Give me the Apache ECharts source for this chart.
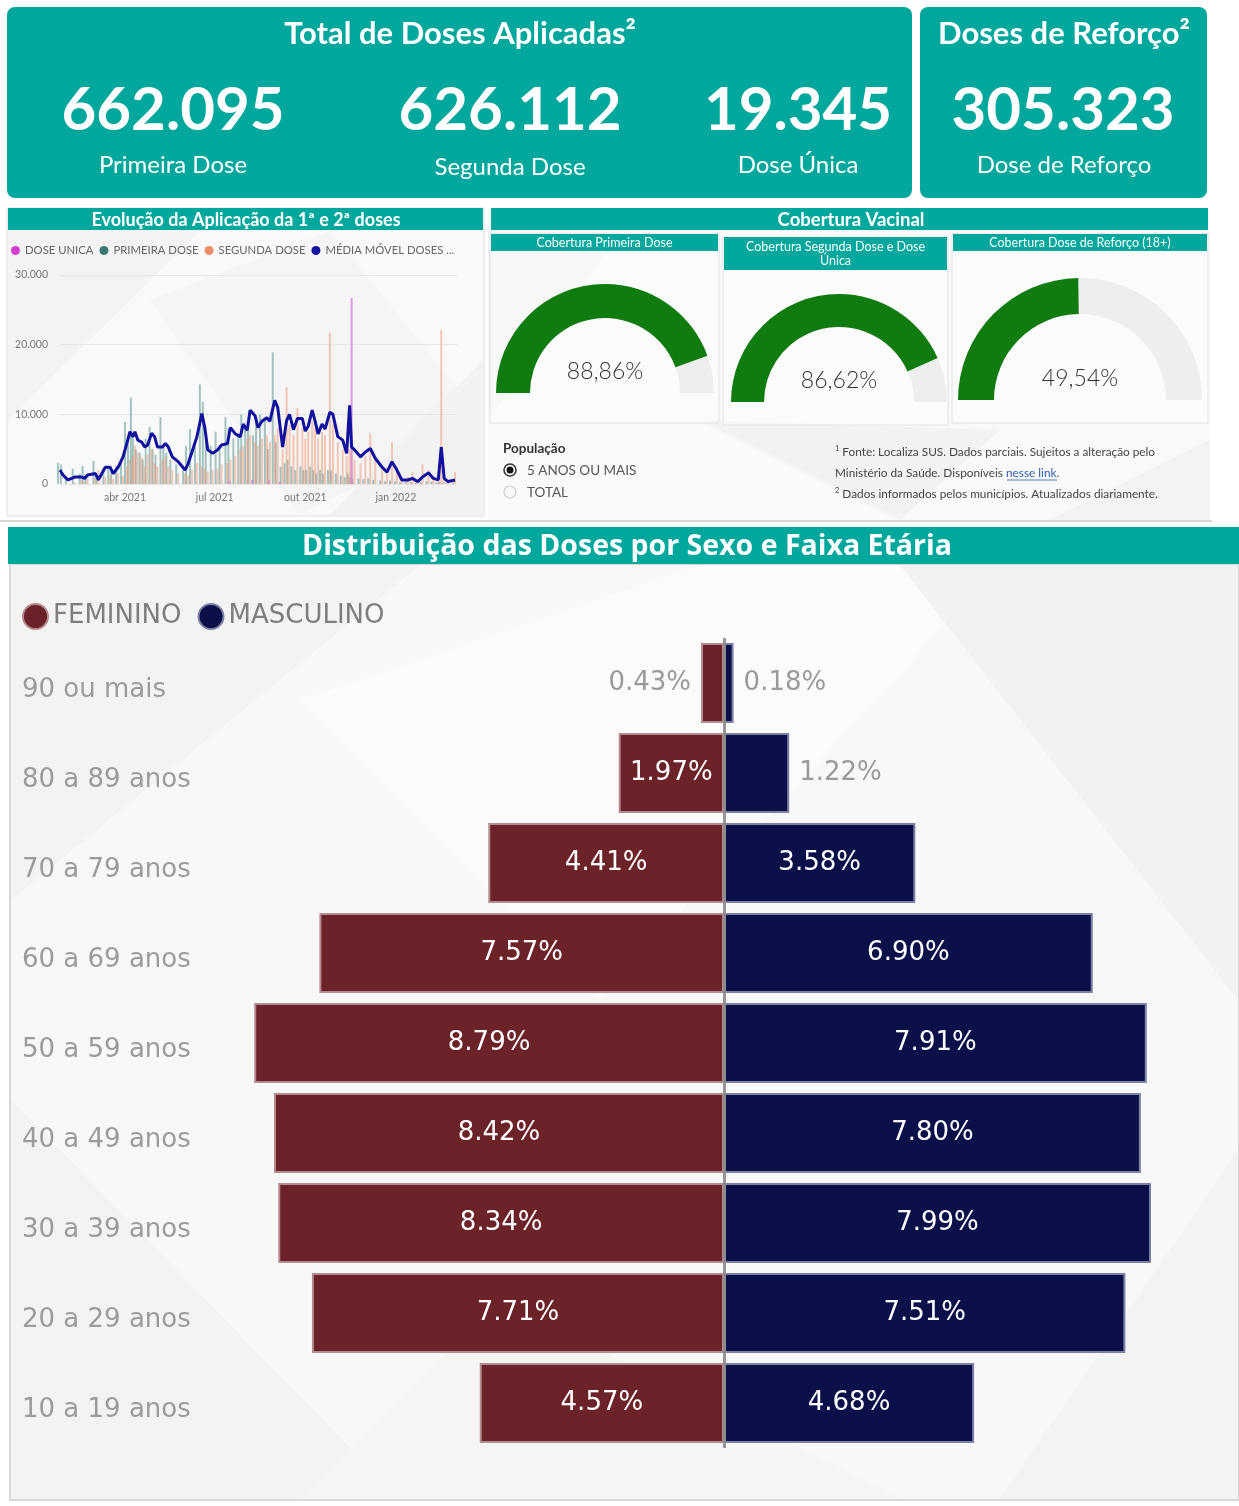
<!DOCTYPE html>
<html>
<head>
<meta charset="utf-8">
<script src="https://cdn.jsdelivr.net/npm/echarts@6/dist/echarts.min.js"></script>
<style>
html,body{margin:0;padding:0;background:#ffffff;}
#main{width:1239px;height:1506px;}
</style>
</head>
<body>
<div id="main"></div>
<script>
// ---- Cartões de totais ----
const totaisValores = ['662.095', '626.112', '19.345'];
const totaisRotulos = ['Primeira Dose', 'Segunda Dose', 'Dose Única'];
const reforcoValor = '305.323';
const reforcoRotulo = 'Dose de Reforço';

// ---- Evolução diária das doses ----
const diasAplicacao = ['2021-01-25','2021-01-28','2021-02-02','2021-02-09','2021-02-16','2021-02-19','2021-02-22','2021-03-02','2021-03-05','2021-03-12',
  '2021-03-17','2021-03-20','2021-03-25','2021-03-30','2021-04-03','2021-04-06','2021-04-09','2021-04-11','2021-04-14','2021-04-18',
  '2021-04-21','2021-04-24','2021-04-28','2021-05-01','2021-05-04','2021-05-09','2021-05-12','2021-05-15','2021-05-19','2021-05-25',
  '2021-06-01','2021-06-04','2021-06-08','2021-06-13','2021-06-18','2021-06-21','2021-06-24','2021-06-29','2021-07-04','2021-07-08',
  '2021-07-14','2021-07-17','2021-07-22','2021-07-27','2021-07-30','2021-08-03','2021-08-06','2021-08-11','2021-08-14','2021-08-18',
  '2021-08-23','2021-08-26','2021-08-31','2021-09-03','2021-09-08','2021-09-12','2021-09-15','2021-09-19','2021-09-23','2021-09-28',
  '2021-10-01','2021-10-04','2021-10-08','2021-10-11','2021-10-14','2021-10-18','2021-10-21','2021-10-26','2021-10-29','2021-11-03',
  '2021-11-08','2021-11-12','2021-11-15','2021-11-17','2021-11-20','2021-11-26','2021-12-01','2021-12-06','2021-12-11','2021-12-18',
  '2021-12-23','2021-12-28','2022-01-02','2022-01-07','2022-01-13','2022-01-18','2022-01-23','2022-01-28','2022-02-03','2022-02-08',
  '2022-02-13','2022-02-16','2022-02-19','2022-02-23','2022-03-02'];
const mediaMovel = [2000,1300,600,1000,1000,800,1300,1500,600,2400,
  2400,1500,2400,3900,5900,7500,6800,7500,6300,6000,
  5300,5600,7300,6800,5300,5300,5800,5300,3900,3200,
  2000,2900,4600,6800,10100,8100,4900,4400,4900,5600,
  5800,8100,7200,6800,8600,7700,10600,9800,8100,9000,
  9500,9000,12000,11000,5300,9100,10000,7800,9400,9400,
  7600,8300,10600,9000,7200,8600,7900,10300,10000,6800,
  6300,4400,11300,5300,4900,3900,4600,5100,3700,2400,
  1700,3200,2000,570,570,800,350,1000,1600,800,
  600,5300,800,350,570];
const primeiraDose = [3000,2800,1000,2200,1500,2600,1200,3300,1200,2000,
  2400,1800,2600,3500,8900,6000,12400,7000,5000,4500,
  3500,6500,8200,5000,4200,9600,5500,4500,3500,2800,
  2000,5500,7900,6000,14300,11800,6000,5500,7500,5500,
  9600,8000,6500,7000,10000,8500,9000,7000,9000,10000,
  9500,5000,18900,6000,2500,3000,3500,2500,2000,2500,
  2000,2000,2500,2000,1500,2000,1500,2000,2000,1500,
  1200,1000,1500,1000,800,800,700,800,600,500,
  400,500,400,300,300,300,200,300,400,300,
  200,300,200,100,200];
const segundaDose = [0,0,0,200,600,300,800,900,2000,1000,
  1200,700,1500,1200,2500,3500,4000,5500,4500,3800,
  2500,4200,5000,3000,2500,3500,4000,2500,2000,1500,
  1500,1200,2000,3000,2500,2200,1800,2000,2200,2800,
  3000,3500,4000,5000,5500,6500,7000,6000,5500,6500,
  7000,6000,7000,8000,5000,13900,8500,7000,10900,8000,
  6500,7500,9000,8000,6500,7500,7000,21700,8500,6000,
  5000,4000,5000,4500,3500,3000,4000,7300,3500,2500,
  1500,6000,2500,800,1000,1700,600,2800,2000,1200,
  800,22100,900,500,1700];
const doseUnica = [0,0,0,0,0,0,0,0,0,0,
  0,0,0,0,0,0,0,0,0,0,
  0,0,0,0,0,0,0,0,0,0,
  0,0,0,0,0,0,0,0,0,0,
  400,0,0,0,0,0,600,0,0,0,
  500,0,0,300,0,0,0,0,0,0,
  0,0,0,0,0,0,0,0,0,0,
  0,0,26700,0,0,0,0,0,0,0,
  0,0,0,0,0,0,0,0,0,0,
  0,0,0,0,0];
const eixoMeses = ['2021-04-01', '2021-07-01', '2021-10-01', '2022-01-01'];
const eixoDoses = [0, 10000, 20000, 30000];
const mesesPt = ['jan','fev','mar','abr','mai','jun','jul','ago','set','out','nov','dez'];

// ---- Cobertura vacinal ----
const coberturaTitulos = ['Cobertura Primeira Dose', 'Cobertura Segunda Dose e Dose\nÚnica', 'Cobertura Dose de Reforço (18+)'];
const coberturaValores = [88.86, 86.62, 49.54];

// ---- Distribuição por sexo e faixa etária (%) ----
const faixasEtarias = ['90 ou mais','80 a 89 anos','70 a 79 anos','60 a 69 anos','50 a 59 anos','40 a 49 anos','30 a 39 anos','20 a 29 anos','10 a 19 anos'];
const feminino = [0.43, 1.97, 4.41, 7.57, 8.79, 8.42, 8.34, 7.71, 4.57];
const masculino = [0.18, 1.22, 3.58, 6.90, 7.91, 7.80, 7.99, 7.51, 4.68];

// ---------------------------------------------------------------
const TEAL = '#00A79D';
const UI = "Lato, 'Open Sans', sans-serif";
const PIX = "'DejaVu Sans', sans-serif";
const ts = d => { const p = d.split('-'); return new Date(+p[0], +p[1] - 1, +p[2]).getTime(); };
const fmtMil = v => v === 0 ? '0' : (v / 1000) + '.000';

const chart = echarts.init(document.getElementById('main'), null, { renderer: 'canvas' });

// Camadas do fundo: painel (-20), textura (-15), cabeçalhos e quadros (-10)
const g = [];
function rect(x, y, w, h, fill, opts) {
  opts = opts || {};
  g.push({ type: 'rect', z: opts.z === undefined ? -10 : opts.z, shape: { x, y, width: w, height: h, r: opts.r || 0 },
    style: Object.assign({ fill }, opts.style || {}) });
}
function poly(points, fill) {
  g.push({ type: 'polygon', z: -15, shape: { points }, style: { fill } });
}
function text(x, y, str, st) {
  g.push({ type: 'text', z: 50, x, y, style: Object.assign({ text: str, fill: '#fff', font: '14px ' + UI, align: 'center', verticalAlign: 'middle' }, st) });
}

// Cartões superiores
rect(7, 7, 905, 191, TEAL, { r: 8 });
rect(920, 7, 287, 191, TEAL, { r: 8 });
text(460, 34, 'Total de Doses Aplicadas²', { font: 'bold 31px ' + UI });
text(1064, 34, 'Doses de Reforço²', { font: 'bold 31px ' + UI });
const xsCartoes = [173, 510, 798];
totaisValores.forEach((v, i) => {
  text(xsCartoes[i], 111, v, { font: 'bold 60px ' + UI });
  text(xsCartoes[i], i === 1 ? 167 : 165, totaisRotulos[i], { font: '24px ' + UI });
});
text(1063, 111, reforcoValor, { font: 'bold 60px ' + UI });
text(1064, 165, reforcoRotulo, { font: '24px ' + UI });

// Painel da evolução
rect(7, 208, 477, 308, '#f9f9f9', { z: -20, style: { stroke: '#e0e0e0', lineWidth: 1 } });
poly([[8, 231], [200, 231], [8, 420]], '#f3f3f3');
poly([[150, 300], [330, 231], [483, 420], [300, 515]], '#f5f5f5');
poly([[330, 515], [483, 360], [483, 515]], '#f2f2f2');
rect(8, 208, 475, 22, TEAL);
text(246, 220, 'Evolução da Aplicação da 1ª e 2ª doses', { font: 'bold 18px ' + UI });

// Painel da cobertura
rect(488, 208, 722, 312, '#f9f9f9', { z: -20 });
poly([[488, 232], [620, 232], [488, 420]], '#f3f3f3');
poly([[700, 420], [900, 520], [1000, 430]], '#f2f2f2');
poly([[1050, 520], [1210, 440], [1210, 520]], '#f3f3f3');
rect(491, 208, 717, 22, TEAL);
text(851, 220, 'Cobertura Vacinal', { font: 'bold 18.5px ' + UI });
const subPaineis = [
  { x: 490, y: 234, w: 229, h: 189, hh: 17 },
  { x: 723, y: 237, w: 225, h: 188, hh: 33 },
  { x: 952, y: 234, w: 256, h: 189, hh: 17 }
];
subPaineis.forEach((p, i) => {
  rect(p.x, p.y, p.w, p.h, 'rgba(255,255,255,0.35)', { style: { stroke: '#e2e2e2', lineWidth: 1 } });
  rect(p.x + 1, p.y, p.w - 2, p.hh, TEAL);
  text(p.x + p.w / 2, p.y + p.hh / 2 + 0.5, coberturaTitulos[i], { font: '12.5px ' + UI, lineHeight: 14 });
});
text(503, 449, 'População', { font: 'bold 13.5px ' + UI, fill: '#333', align: 'left' });
g.push({ type: 'circle', z: 50, shape: { cx: 510, cy: 470, r: 6 }, style: { fill: '#fff', stroke: '#333', lineWidth: 1.5 } });
g.push({ type: 'circle', z: 51, shape: { cx: 510, cy: 470, r: 3.5 }, style: { fill: '#111' } });
g.push({ type: 'circle', z: 50, shape: { cx: 510, cy: 492, r: 6 }, style: { fill: 'none', stroke: '#d0d0d0', lineWidth: 1.2 } });
text(527, 471, '5 ANOS OU MAIS', { font: '13.5px ' + UI, fill: '#555', align: 'left' });
text(527, 493, 'TOTAL', { font: '13.5px ' + UI, fill: '#555', align: 'left' });
const notaRich = { s: { fontSize: 7.5, verticalAlign: 'top', padding: [0, 0, 6, 0], fill: '#444', fontFamily: UI }, l: { fill: '#2f5fb3', fontSize: 11.8, fontFamily: UI } };
text(835, 452, '{s|1} Fonte: Localiza SUS. Dados parciais. Sujeitos a alteração pelo', { font: '11.8px ' + UI, fill: '#444', align: 'left', rich: notaRich });
text(835, 473, 'Ministério da Saúde. Disponíveis {l|nesse link}.', { font: '11.8px ' + UI, fill: '#444', align: 'left', rich: notaRich });
text(835, 494, '{s|2} Dados informados pelos municípios. Atualizados diariamente.', { font: '11.8px ' + UI, fill: '#444', align: 'left', rich: notaRich });
g.push({ type: 'line', z: 50, shape: { x1: 1007, y1: 480, x2: 1057, y2: 480 }, style: { stroke: '#2f5fb3', lineWidth: 0.8 } });

// Separador e painel da distribuição
g.push({ type: 'line', z: -8, shape: { x1: 0, y1: 521, x2: 1212, y2: 521 }, style: { stroke: '#d6d6d6', lineWidth: 2 } });
rect(10, 564, 1229, 936, '#f8f8f8', { z: -20, style: { stroke: '#d8d8d8', lineWidth: 2 } });
poly([[11, 565], [420, 565], [11, 900]], '#f3f3f3');
poly([[300, 700], [700, 565], [1000, 565], [600, 1000]], '#fbfbfb');
poly([[900, 565], [1238, 565], [1238, 1000]], '#f2f2f2');
poly([[11, 1100], [400, 1499], [11, 1499]], '#f3f3f3');
poly([[1000, 1499], [1238, 1150], [1238, 1499]], '#f3f3f3');
poly([[500, 1300], [900, 1499], [300, 1499]], '#f5f5f5');
rect(8, 527, 1231, 37, TEAL);
text(627, 547, 'Distribuição das Doses por Sexo e Faixa Etária', { font: "bold 28.5px 'Open Sans', sans-serif" });

// Rótulos de barra da pirâmide: dentro quando há espaço, fora nas barras curtas
const rotuloFora = (lado) => ({ position: lado, distance: 10, color: '#9a9a9a' });
const rotuloDentro = { position: 'inside', color: '#ffffff' };

const serieEvolucao = (name, color, values) => ({
  name, type: 'bar', xAxisIndex: 0, yAxisIndex: 0, barWidth: 2, barGap: '0%',
  itemStyle: { color }, data: diasAplicacao.map((d, i) => [ts(d), values[i]])
});

const option = {
  animation: false,
  backgroundColor: 'transparent',
  graphic: { elements: g },
  legend: [
    {
      data: [
        { name: 'DOSE UNICA', itemStyle: { color: '#D23FCF', opacity: 1 } },
        { name: 'PRIMEIRA DOSE', itemStyle: { color: '#3D7773', opacity: 1 } },
        { name: 'SEGUNDA DOSE', itemStyle: { color: '#EE8C68', opacity: 1 } },
        { name: 'MÉDIA MÓVEL DOSES', itemStyle: { color: '#12129E' } }
      ],
      formatter: n => n === 'MÉDIA MÓVEL DOSES' ? n + ' ...' : n,
      left: 11, top: 245, icon: 'circle', itemWidth: 9, itemHeight: 9, itemGap: 6, padding: 0,
      textStyle: { fontFamily: UI, fontSize: 11.3, color: '#666' }
    },
    {
      data: ['FEMININO', 'MASCULINO'],
      left: 22, top: 603, icon: 'circle', itemWidth: 25, itemHeight: 25, itemGap: 16, padding: 0,
      textStyle: { fontFamily: PIX, fontSize: 26, color: '#7e7e7e' }
    }
  ],
  grid: [
    { left: 59, top: 275, width: 398, height: 209 },
    { left: 243, top: 638, width: 962, height: 810 }
  ],
  xAxis: [
    {
      type: 'value', gridIndex: 0, min: ts('2021-01-24'), max: ts('2022-03-04'),
      axisLine: { show: false }, axisTick: { show: false }, splitLine: { show: false },
      axisLabel: {
        customValues: eixoMeses.map(ts), margin: 8,
        fontFamily: UI, fontSize: 10.5, color: '#777',
        formatter: v => { const d = new Date(v); return mesesPt[d.getMonth()] + ' ' + d.getFullYear(); }
      }
    },
    { type: 'value', gridIndex: 1, min: -9, max: 9, show: false }
  ],
  yAxis: [
    {
      type: 'value', gridIndex: 0, min: eixoDoses[0], max: eixoDoses[eixoDoses.length - 1], interval: 10000,
      axisLine: { show: false }, axisTick: { show: false },
      splitLine: { lineStyle: { color: '#e6e6e6', width: 1 } },
      axisLabel: { fontFamily: UI, fontSize: 10.5, color: '#777', margin: 11, formatter: fmtMil }
    },
    {
      type: 'category', gridIndex: 1, inverse: true, data: faixasEtarias,
      axisLine: { show: false }, axisTick: { show: false },
      axisLabel: {
        align: 'left', margin: 221,
        formatter: v => '{f|' + v + '}',
        rich: { f: { fontFamily: PIX, fontSize: 26, color: '#9b9b9b', padding: [14, 0, 0, 0] } }
      }
    }
  ],
  series: [
    serieEvolucao('PRIMEIRA DOSE', 'rgba(92,150,146,0.55)', primeiraDose),
    serieEvolucao('SEGUNDA DOSE', 'rgba(240,150,115,0.5)', segundaDose),
    serieEvolucao('DOSE UNICA', 'rgba(214,120,214,0.75)', doseUnica),
    {
      name: 'MÉDIA MÓVEL DOSES', type: 'line', xAxisIndex: 0, yAxisIndex: 0, z: 5,
      symbol: 'none', lineStyle: { color: '#12129E', width: 3 }, itemStyle: { color: '#12129E' },
      data: diasAplicacao.map((d, i) => [ts(d), mediaMovel[i]])
    },
    {
      name: 'FEMININO', type: 'bar', xAxisIndex: 1, yAxisIndex: 1, barWidth: 80, barGap: '-100%',
      itemStyle: { color: '#6B2228', borderColor: '#b38a8d', borderWidth: 2 },
      label: { show: true, fontFamily: PIX, fontSize: 26, formatter: p => Math.abs(p.value).toFixed(2) + '%' },
      data: feminino.map(v => ({ value: -v, label: v < 1.5 ? rotuloFora('left') : rotuloDentro }))
    },
    {
      name: 'MASCULINO', type: 'bar', xAxisIndex: 1, yAxisIndex: 1, barWidth: 80, barGap: '-100%',
      itemStyle: { color: '#0B1049', borderColor: '#7d81a6', borderWidth: 2 },
      label: { show: true, fontFamily: PIX, fontSize: 26, formatter: p => Math.abs(p.value).toFixed(2) + '%' },
      data: masculino.map(v => ({ value: v, label: v < 1.5 ? rotuloFora('right') : rotuloDentro })),
      markLine: {
        silent: true, symbol: 'none', z: 10,
        label: { show: false },
        lineStyle: { color: '#8c8c8c', width: 3, type: 'solid', opacity: 0.9 },
        data: [{ xAxis: 0 }]
      }
    }
  ]
};

// Medidores de cobertura
const medidores = [
  { center: [605, 393], radius: 109, width: 34 },
  { center: [839, 402], radius: 108, width: 33 },
  { center: [1080, 400], radius: 122, width: 36 }
];
medidores.forEach((m, i) => {
  option.series.push({
    type: 'gauge', center: m.center, radius: m.radius, startAngle: 180, endAngle: 0, min: 0, max: 100,
    axisLine: { lineStyle: { width: m.width, color: [[1, '#eeeeee']] } },
    progress: { show: true, width: m.width, itemStyle: { color: '#107C10' } },
    pointer: { show: false }, axisTick: { show: false }, splitLine: { show: false },
    axisLabel: { show: false }, anchor: { show: false }, title: { show: false },
    detail: {
      offsetCenter: [0, -21], fontFamily: UI, fontSize: 23, fontWeight: 300, color: '#333',
      formatter: v => v.toFixed(2).replace('.', ',') + '%'
    },
    data: [{ value: coberturaValores[i] }]
  });
});

chart.setOption(option);
</script>
</body>
</html>
